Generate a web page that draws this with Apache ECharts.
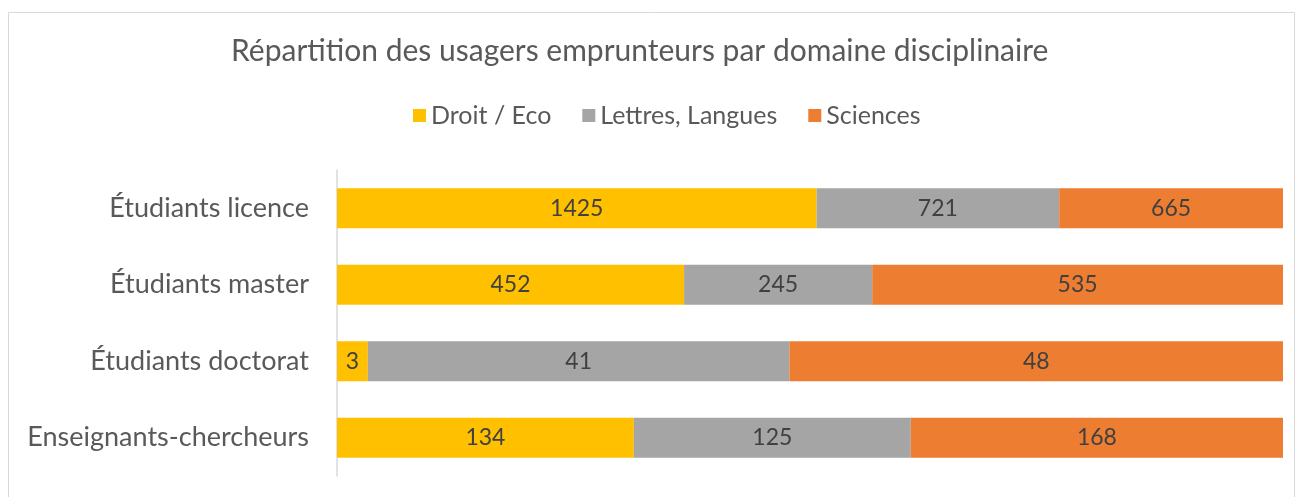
<!DOCTYPE html>
<html><head><meta charset="utf-8">
<script src="https://cdn.jsdelivr.net/npm/echarts@6/dist/echarts.min.js"></script>
<style>html,body{margin:0;padding:0;background:#fff}#c{width:1301px;height:497px}</style>
</head><body><div id="c"></div>
<script>
const categories = ['Étudiants licence', 'Étudiants master', 'Étudiants doctorat', 'Enseignants-chercheurs'];
const droitEco = [1425, 452, 3, 134];
const lettresLangues = [721, 245, 41, 125];
const sciences = [665, 535, 48, 168];
const seriesNames = ['Droit / Eco', 'Lettres, Langues', 'Sciences'];
const colors = ['#FFC000', '#A5A5A5', '#ED7D31'];

const totals = categories.map((_, i) => droitEco[i] + lettresLangues[i] + sciences[i]);
const raw = [droitEco, lettresLangues, sciences];
const FONT = 'Lato';

const chart = echarts.init(document.getElementById('c'));
chart.setOption({
  animation: false,
  textStyle: { fontFamily: FONT },
  title: {
    text: 'Répartition des usagers emprunteurs par domaine disciplinaire',
    left: 226, top: 31,
    textStyle: { fontFamily: FONT, fontSize: 30, fontWeight: 'normal', color: '#595959' }
  },
  legend: {
    top: 98, left: 408,
    itemWidth: 13, itemHeight: 13, itemGap: 31,
    icon: 'rect',
    textStyle: { fontFamily: FONT, fontSize: 25, color: '#595959' },
    data: seriesNames
  },
  graphic: [{
    type: 'rect', shape: { x: 8.5, y: 12.5, width: 1286, height: 500 },
    style: { fill: 'none', stroke: '#d9d9d9', lineWidth: 1 }, silent: true
  }],
  grid: { left: 337, right: 18, top: 170, bottom: 21 },
  xAxis: { type: 'value', min: 0, max: 100, show: false },
  yAxis: {
    type: 'category', data: categories, inverse: true,
    axisLine: { lineStyle: { color: '#d9d9d9', width: 1.5 } },
    axisTick: { show: false },
    axisLabel: { fontFamily: FONT, fontSize: 27, color: '#595959', margin: 28 }
  },
  series: raw.map((arr, si) => ({
    name: seriesNames[si], type: 'bar', stack: 'total', barWidth: '52%',
    itemStyle: { color: colors[si] },
    label: {
      show: true, position: 'inside', fontFamily: FONT, fontSize: 23, color: '#404040',
      formatter: p => String(arr[p.dataIndex])
    },
    data: arr.map((v, i) => v / totals[i] * 100)
  }))
});
</script></body></html>
